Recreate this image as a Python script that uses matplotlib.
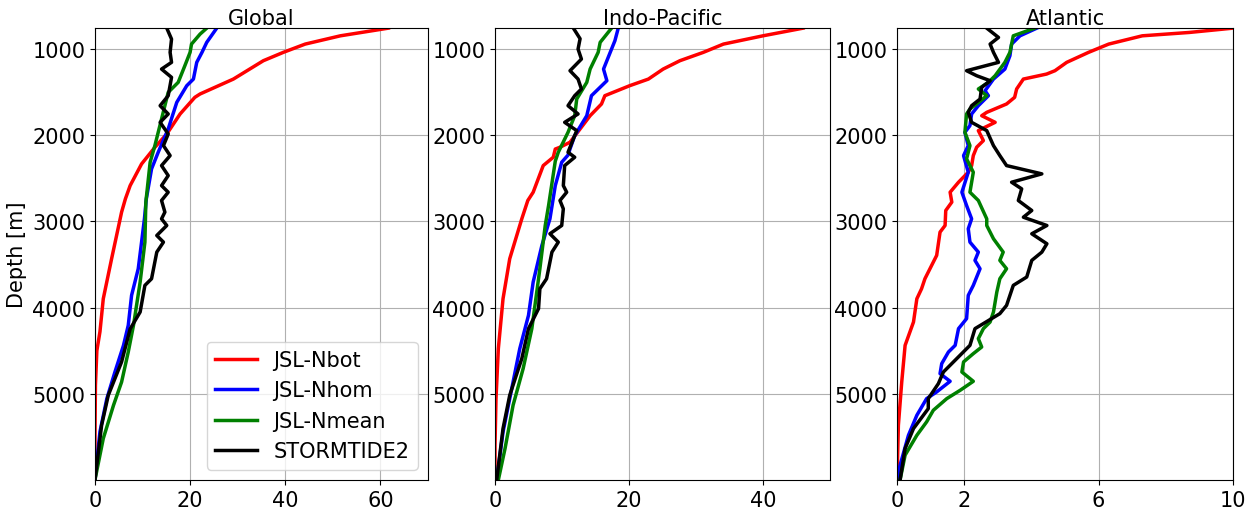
import matplotlib
matplotlib.use("Agg")
import matplotlib.pyplot as plt

# ---- data (depth in m) ----
regions = ["Global", "Indo-Pacific", "Atlantic"]
labels = ["JSL-Nbot", "JSL-Nhom", "JSL-Nmean", "STORMTIDE2"]
colors = ["red", "blue", "green", "black"]

# Global
glob_nbot_z = [757, 846, 942, 1038, 1135, 1348, 1521, 1560, 1753, 1985, 2140, 2333, 2584, 2738, 2892, 3047,
               3433, 3897, 4280, 4500, 4900, 5500, 6000]
glob_nbot_v = [61.7, 51.6, 44.2, 39.6, 35.4, 29.1, 22.1, 21.0, 17.9, 15.1, 12.6, 9.8, 7.4, 6.4, 5.6, 5.0,
               3.5, 1.75, 1.05, 0.4, 0.1, 0.0, 0.0]
glob_nhom_z = [757, 922, 1038, 1154, 1348, 1425, 1618, 1927, 2197, 2390, 2738, 2970, 3240, 3549, 3858, 4206,
               4438, 4747, 5056, 5440, 6000]
glob_nhom_v = [25.6, 23.5, 22.5, 21.4, 20.7, 19.3, 17.2, 15.4, 13.3, 11.9, 10.8, 10.4, 9.8, 9.1, 7.7, 7.0,
               6.0, 4.2, 2.5, 1.05, 0.0]
glob_nmean_z = [757, 826, 942, 1038, 1193, 1386, 1502, 1811, 2120, 2313, 2776, 3240, 3703, 4206, 4515, 4863,
                5133, 5519, 6000]
glob_nmean_v = [23.5, 22.1, 20.3, 20.0, 18.9, 17.5, 15.4, 14.0, 12.6, 11.6, 10.7, 10.5, 9.5, 8.1, 7.0, 5.6,
                3.9, 1.75, 0.0]
glob_st_z = [757, 884, 1038, 1154, 1232, 1328, 1541, 1657, 1753, 1850, 1985, 2120, 2236, 2352, 2468, 2584,
             2661, 2757, 2892, 2970, 3047, 3163, 3240, 3356, 3665, 3742, 4051, 4247, 4630, 5017, 5365, 6000]
glob_st_v = [15.1, 16.1, 15.8, 16.1, 14.0, 16.1, 15.4, 13.7, 15.4, 13.7, 15.4, 14.4, 15.8, 14.0, 15.4, 14.0,
             15.4, 14.0, 14.7, 14.0, 15.1, 13.0, 14.4, 13.0, 11.9, 10.5, 9.5, 7.4, 5.6, 2.8, 1.4, 0.0]

# Indo-Pacific
ip_nbot_z = [757, 846, 942, 1038, 1135, 1232, 1348, 1425, 1541, 1637, 1773, 1927, 2081, 2139, 2160, 2255,
             2352, 2661, 2757, 2970, 3433, 3897, 4476, 5056, 5600, 6000]
ip_nbot_v = [46.0, 40.0, 34.1, 31.1, 27.6, 25.1, 22.9, 20.1, 16.4, 15.9, 14.2, 12.7, 11.2, 9.7, 9.0, 8.7,
             7.2, 5.7, 4.9, 4.0, 2.2, 1.2, 0.5, 0.15, 0.0, 0.0]
ip_nhom_z = [757, 903, 1038, 1232, 1367, 1541, 1773, 2004, 2159, 2230, 2313, 2584, 2970, 3279, 3703, 4090,
             4476, 4940, 5442, 6000]
ip_nhom_v = [18.4, 17.9, 17.2, 16.2, 16.7, 14.4, 13.7, 11.9, 11.2, 10.9, 9.96, 9.0, 8.2, 7.0, 5.7, 5.0,
             3.7, 2.5, 1.2, 0.25]
ip_nmean_z = [757, 922, 1038, 1232, 1386, 1580, 1773, 1966, 2197, 2300, 2815, 3047, 3549, 4244, 4708, 5133,
              5635, 6000]
ip_nmean_v = [17.4, 15.7, 15.4, 14.2, 13.7, 12.2, 11.9, 10.9, 9.45, 9.0, 8.0, 7.5, 6.7, 5.5, 4.2, 2.7,
              1.5, 0.5]
ip_st_z = [757, 880, 1000, 1116, 1251, 1348, 1463, 1541, 1657, 1753, 1850, 1946, 2101, 2197, 2255, 2352,
           2584, 2661, 2757, 2854, 3047, 3143, 3240, 3356, 3665, 3781, 4012, 4244, 4592, 5017, 5403, 6000]
ip_st_v = [11.7, 12.7, 12.4, 12.9, 11.2, 12.4, 12.9, 11.9, 10.9, 12.4, 10.4, 12.2, 11.4, 10.9, 11.9, 10.4,
           10.2, 10.7, 9.7, 10.2, 9.96, 8.2, 9.45, 8.5, 7.7, 6.7, 6.5, 5.0, 4.0, 2.2, 1.2, 0.25]

# Atlantic
atl_nbot_z = [757, 807, 846, 942, 1038, 1154, 1251, 1290, 1348, 1463, 1560, 1637, 1734, 1773, 1850, 1907,
              1946, 2062, 2139, 2236, 2352, 2429, 2545, 2661, 2776, 2873, 3047, 3124, 3394, 3665, 3781, 3897,
              4167, 4438, 4863, 5365, 6000]
atl_nbot_v = [10.0, 8.7, 7.3, 6.3, 5.7, 5.05, 4.7, 4.45, 3.76, 3.56, 3.5, 3.26, 2.67, 2.52, 2.92, 2.62,
              2.42, 2.57, 2.37, 2.27, 2.22, 2.12, 1.83, 1.58, 1.63, 1.45, 1.43, 1.28, 1.18, 0.83, 0.73, 0.59,
              0.49, 0.24, 0.14, 0.04, 0.0]
atl_nhom_z = [757, 846, 942, 1077, 1232, 1348, 1483, 1541, 1657, 1753, 1888, 1966, 2120, 2236, 2429, 2661,
              2815, 2970, 3085, 3240, 3356, 3452, 3549, 3742, 3858, 4128, 4244, 4438, 4515, 4650, 4766, 4855,
              4978, 5056, 5249, 5481, 5829, 6000]
atl_nhom_v = [4.16, 3.66, 3.41, 3.36, 3.21, 2.87, 2.62, 2.72, 2.42, 2.22, 2.17, 2.02, 2.12, 1.98, 2.12, 1.93,
              2.07, 2.22, 2.12, 2.17, 2.42, 2.32, 2.47, 2.27, 2.12, 2.07, 1.83, 1.73, 1.53, 1.33, 1.28, 1.58,
              1.18, 0.88, 0.59, 0.34, 0.09, 0.0]
atl_nmean_z = [757, 846, 1038, 1154, 1309, 1386, 1463, 1541, 1637, 1695, 1753, 1966, 2120, 2274, 2429, 2661,
               2757, 2970, 3047, 3201, 3356, 3452, 3549, 3665, 3819, 4051, 4167, 4244, 4360, 4457, 4534, 4630,
               4747, 4855, 4959, 5056, 5191, 5326, 5481, 5712, 6000]
atl_nmean_v = [4.1, 3.46, 3.36, 3.21, 2.92, 2.72, 2.42, 2.67, 2.37, 2.17, 2.07, 2.02, 2.17, 2.07, 2.27, 2.17,
               2.42, 2.67, 2.67, 2.87, 3.16, 3.06, 3.26, 3.06, 2.97, 2.87, 2.77, 2.57, 2.42, 2.52, 2.27, 1.98,
               1.93, 2.27, 1.88, 1.48, 1.08, 0.88, 0.59, 0.24, 0.09]
atl_st_z = [757, 865, 942, 1038, 1154, 1251, 1309, 1367, 1444, 1580, 1657, 1734, 1850, 1946, 2120, 2236,
            2352, 2448, 2545, 2622, 2757, 2873, 2951, 3047, 3143, 3259, 3356, 3452, 3645, 3742, 3974, 4070,
            4244, 4438, 4747, 4882, 5056, 5172, 5403, 5635, 6000]
atl_st_v = [2.67, 3.02, 2.77, 2.87, 3.02, 2.07, 2.37, 2.77, 2.52, 2.47, 2.22, 2.12, 2.22, 2.67, 2.87, 3.06,
            3.26, 4.31, 3.41, 3.71, 3.61, 4.01, 3.76, 4.46, 4.01, 4.46, 4.31, 4.01, 3.86, 3.46, 3.26, 3.06,
            2.32, 2.17, 1.38, 1.23, 0.93, 0.93, 0.49, 0.24, 0.09]

panels = [
    [(glob_nbot_v, glob_nbot_z), (glob_nhom_v, glob_nhom_z), (glob_nmean_v, glob_nmean_z), (glob_st_v, glob_st_z)],
    [(ip_nbot_v, ip_nbot_z), (ip_nhom_v, ip_nhom_z), (ip_nmean_v, ip_nmean_z), (ip_st_v, ip_st_z)],
    [(atl_nbot_v, atl_nbot_z), (atl_nhom_v, atl_nhom_z), (atl_nmean_v, atl_nmean_z), (atl_st_v, atl_st_z)],
]
xlims = [(0, 70), (0, 50), (0, 10)]
xticks = [[0, 20, 40, 60], [0, 20, 40], [0, 2, 6, 10]]
yticks = [1000, 2000, 3000, 4000, 5000]

plt.rcParams['font.size'] = 15

fig = plt.figure(figsize=(12.56, 5.10), dpi=100)
lefts = [0.0756, 0.3941, 0.7142]
widths = [0.2651, 0.2667, 0.2675]

for i, name in enumerate(regions):
    ax = fig.add_axes([lefts[i], 0.0569, widths[i], 0.8863])
    for (v, z), lab, c in zip(panels[i], labels, colors):
        ax.plot(v, z, color=c, lw=2.5, label=lab)
    ax.set_xlim(*xlims[i])
    ax.set_ylim(6000, 755)
    ax.set_xticks(xticks[i])
    ax.set_yticks(yticks)
    ax.grid(True, color='#b0b0b0', lw=0.8)
    ax.set_title(name, fontsize=15, pad=3)
    if i == 0:
        ax.set_ylabel('Depth [m]')
        ax.legend(loc='lower right', fontsize=15)

fig.savefig('out.png', dpi=100)
